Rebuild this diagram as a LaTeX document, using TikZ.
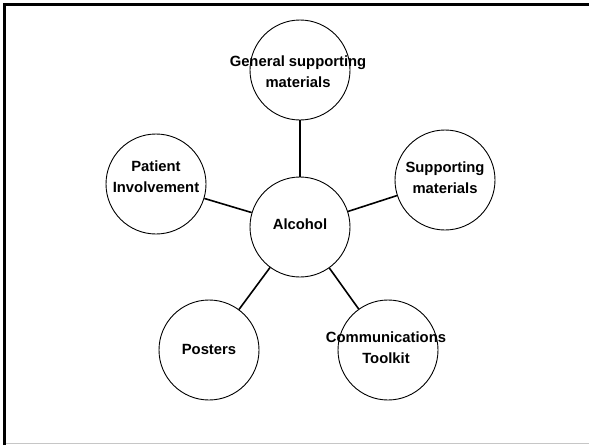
\documentclass[tikz,border=0pt]{standalone}
\usepackage{fontspec}
\setmainfont{Liberation Sans}
\begin{document}
\begin{tikzpicture}[x=1pt,y=-1pt,
  topic/.style={circle,draw=black,line width=0.9pt,fill=white,minimum size=100pt,inner sep=0pt},
  caption/.style={font=\bfseries\fontsize{14.8}{21}\selectfont,align=center,inner sep=0pt},
  link/.style={draw=black,line width=1.6pt}]
\useasboundingbox (0,0) rectangle (589,445);
% frame
\draw[gray!45,line width=1.5pt] (5,443.3) -- (589,443.3);
\draw[black,line width=3pt] (4.8,445) -- (4.8,4.8) -- (589,4.8);
% circles
\node[topic] (gen) at (300,70) {};
\node[topic] (pat) at (156,184) {};
\node[topic] (sup) at (445,180) {};
\node[topic] (alc) at (300,227) {};
\node[topic] (pos) at (209,350) {};
\node[topic] (com) at (388,350) {};
% connectors
\draw[link] (alc) -- (gen);
\draw[link] (alc) -- (pat);
\draw[link] (alc) -- (sup);
\draw[link] (alc) -- (pos);
\draw[link] (alc) -- (com);
% labels
\node[caption] (gen-t) at (298,72) {General supporting\\materials};
\node[caption] (pat-t) at (156,177) {Patient\\Involvement};
\node[caption] (sup-t) at (445,178) {Supporting\\materials};
\node[caption] (alc-t) at (300,224) {Alcohol};
\node[caption] (pos-t) at (209,349) {Posters};
\node[caption] (com-t) at (386,348) {Communications\\Toolkit};
\end{tikzpicture}
\end{document}
